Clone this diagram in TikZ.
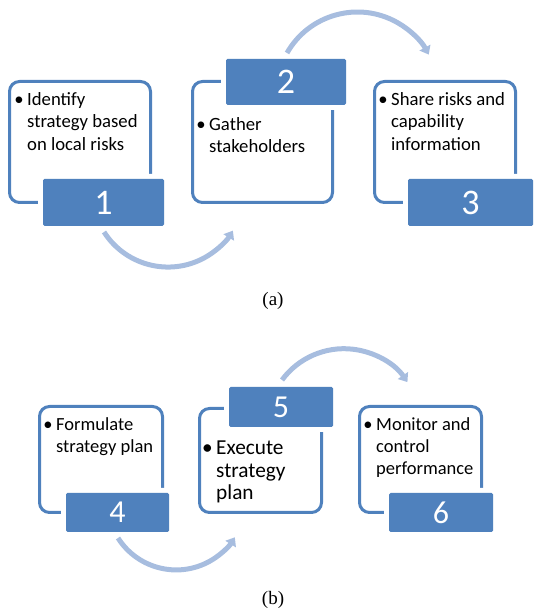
\documentclass[tikz,border=0pt]{standalone}
\usepackage{fontspec}
\setmainfont{Carlito}
\newfontfamily\capfont{Liberation Serif}
\usetikzlibrary{arrows.meta}
\definecolor{dblue}{HTML}{4F81BD}
\definecolor{lblue}{HTML}{A7BDDF}
\tikzset{
  frame/.style={draw=dblue, line width=3pt, rounded corners=10pt},
  tab/.style={fill=dblue, rounded corners=1.5pt, preaction={draw=white, line width=10pt}},
  num/.style={text=white, inner sep=0pt, font=\fontsize{36}{36}\selectfont},
  numb/.style={text=white, inner sep=0pt, font=\fontsize{32}{32}\selectfont},
  txt/.style={inner sep=0pt, align=left, anchor=north west, font=\fontsize{18.7}{22.5}\selectfont},
  txtb/.style={inner sep=0pt, align=left, anchor=north west, font=\fontsize{18.5}{22}\selectfont},
  txtbig/.style={inner sep=0pt, align=left, anchor=north west, font=\fontsize{21.3}{22.5}\selectfont},
  flow/.style={draw=lblue, line width=5pt, -{Triangle[width=12pt,length=8pt]}},
  captext/.style={inner sep=0pt, font=\capfont\fontsize{19}{20}\selectfont}
}
\newcommand{\bul}{\llap{•\hspace{3.5pt}}}
\begin{document}
\begin{tikzpicture}[x=1pt,y=1pt]
\useasboundingbox (0,0) rectangle (545,614);
% ---- panel (a)
\draw[frame] (9.5,532.5) rectangle (150.5,411.5);
\draw[frame] (192.5,532.5) rectangle (332.5,411.5);
\draw[frame] (374.5,532.5) rectangle (515.5,411.5);
\path[tab] (43,435) rectangle (164,388);
\path[tab] (226,555) rectangle (346,509);
\path[tab] (408,435) rectangle (533,388);
\node[num] (n1) at (103.5,411.5) {1};
\node[num] (n2) at (286,532) {2};
\node[num] (n3) at (470.5,411.5) {3};
\node[txt] (t1) at (27,522) {\bul Identify\\strategy based\\on local risks};
\node[txt] (t2) at (209,497) {\bul Gather\\stakeholders};
\node[txt] (t3) at (391,522) {\bul Share risks and\\capability\\information};
\coordinate (s12) at (104,382);
\draw[flow] (s12) arc[start angle=212.6, end angle=328.6, radius=76];
\coordinate (s23) at (287,561);
\draw[flow] (s23) arc[start angle=150.4, end angle=28.3, radius=81];
\node[captext] (ca) at (273,313) {(a)};
% ---- panel (b)
\draw[frame] (39.5,207.5) rectangle (162.5,101.5);
\draw[frame] (199.5,205.5) rectangle (321.5,101.5);
\draw[frame] (359.5,207.5) rectangle (481.5,101.5);
\path[tab] (66,121) rectangle (169,82);
\path[tab] (229,227) rectangle (333,187);
\path[tab] (389,121) rectangle (493,82);
\node[numb] (n4) at (117.5,101.5) {4};
\node[numb] (n5) at (281,207) {5};
\node[numb] (n6) at (441,101.5) {6};
\node[txtb] (t4) at (56,197) {\bul Formulate\\strategy plan};
\node[txtbig] (t5) at (216,173) {\bul Execute\\strategy\\plan};
\node[txtb] (t6) at (376,197) {\bul Monitor and\\control\\performance};
\coordinate (s45) at (118,76);
\draw[flow] (s45) arc[start angle=212.5, end angle=328.2, radius=69];
\coordinate (s56) at (282,234);
\draw[flow] (s56) arc[start angle=143.6, end angle=34.5, radius=77];
\node[captext] (cb) at (273,14) {(b)};
\end{tikzpicture}
\end{document}
